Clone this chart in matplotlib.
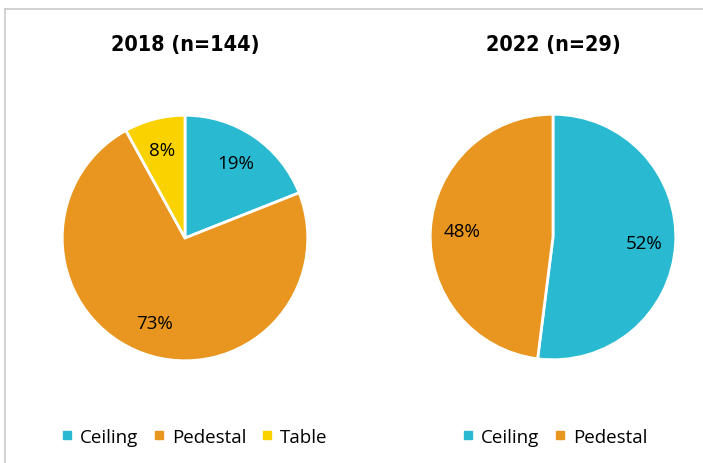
import matplotlib.pyplot as plt
from matplotlib.lines import Line2D

# data
titles = ["2018 (n=144)", "2022 (n=29)"]
labels_2018 = ["Ceiling", "Pedestal", "Table"]
values_2018 = [19, 73, 8]
labels_2022 = ["Ceiling", "Pedestal"]
values_2022 = [52, 48]

colors = {"Ceiling": "#29B9D1", "Pedestal": "#E8961F", "Table": "#F9D200"}

W, H = 703, 464
fig = plt.figure(figsize=(W / 100, H / 100), dpi=100)
fig.patch.set_facecolor("white")

# light frame like the source slide
fig.add_artist(Line2D([5 / W, 1], [1 - 10 / H, 1 - 10 / H], color="#C9C9C9", lw=1.2))
fig.add_artist(Line2D([5 / W, 5 / W], [0, 1 - 10 / H], color="#C9C9C9", lw=1.2))

title_font = "DejaVu Sans"
text_font = "Open Sans"


def draw_pie(cx, cy, r, labels, values, title, legend_x):
    ax = fig.add_axes([(cx - r) / W, 1 - (cy + r) / H, 2 * r / W, 2 * r / H])
    ax.pie(values, colors=[colors[l] for l in labels], startangle=90,
           counterclock=False, autopct="%d%%", pctdistance=0.74,
           wedgeprops=dict(edgecolor="white", linewidth=2),
           textprops=dict(fontsize=13.5, family=text_font, color="black"))
    ax.set_xlim(-1.01, 1.01)
    ax.set_ylim(-1.01, 1.01)
    fig.text(cx / W, 1 - 45 / H, title, ha="center", va="center",
             fontsize=15.5, fontweight="bold", fontstretch="condensed",
             family=title_font)
    handles = [Line2D([], [], marker="s", color=colors[l], linestyle="none",
                      markersize=6) for l in labels]
    fig.legend(handles, labels, loc="center left", ncol=len(labels),
               bbox_to_anchor=(legend_x / W, 1 - 438 / H), frameon=False,
               prop=dict(family=text_font, size=13.5), handlelength=0.6,
               handletextpad=0.4, columnspacing=0.8, borderaxespad=0)


draw_pie(185, 239, 124, labels_2018, values_2018, titles[0], 54)
draw_pie(553, 238, 124, labels_2022, values_2022, titles[1], 455)

fig.savefig("out.png", dpi=100)
